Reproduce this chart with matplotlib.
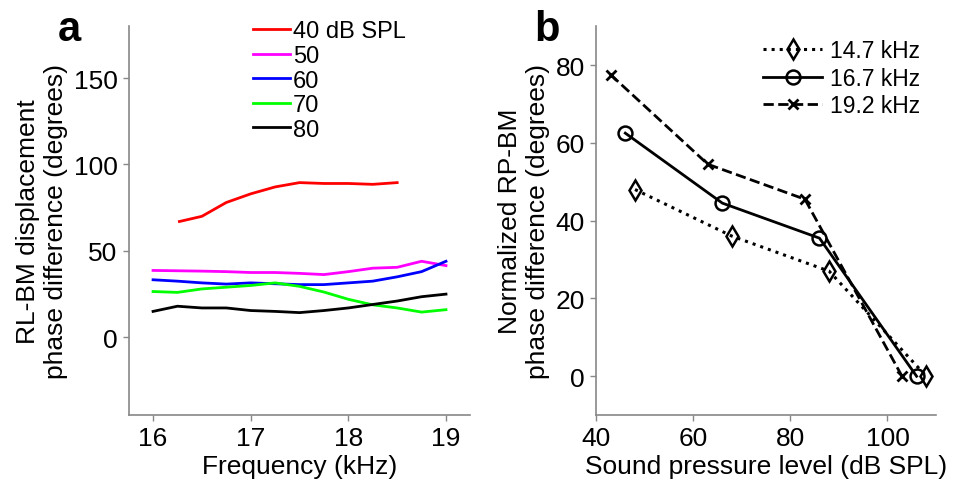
import matplotlib.pyplot as plt

plt.rcParams['font.family'] = ['Liberation Sans', 'DejaVu Sans']

# panel a: RL-BM phase difference vs frequency
freq_a = [16.0, 16.25, 16.5, 16.75, 17.0, 17.25, 17.5, 17.75, 18.0, 18.25, 18.5, 18.75, 19.0]
freq_40 = [16.27, 16.5, 16.75, 17.0, 17.25, 17.5, 17.75, 18.0, 18.25, 18.5]
phase_40 = [67, 70, 78, 83, 87, 89.5, 89, 89, 88.5, 89.5]
phase_50 = [38.7, 38.5, 38.3, 38, 37.5, 37.5, 37, 36.3, 38, 40, 40.5, 44, 41.5]
phase_60 = [33.3, 32.5, 31.5, 30.8, 31.5, 31, 30.5, 30.5, 31.5, 32.5, 35, 38, 44]
phase_70 = [26.5, 26, 28, 29, 30, 31.5, 29.5, 26.2, 22, 18.8, 17, 14.6, 16]
phase_80 = [15, 18, 17, 17, 15.5, 15, 14.3, 15.5, 17, 19, 21, 23.5, 25]
labels_a = ['40 dB SPL', '50', '60', '70', '80']
colors_a = ['#ff0000', '#ff00ff', '#0000ff', '#00ff00', '#000000']

# panel b: normalized RP-BM phase difference vs SPL
spl_147 = [48, 68, 88, 108]
ph_147 = [48, 36, 27, 0]
spl_167 = [46, 66, 86, 106]
ph_167 = [62.5, 44.5, 35.5, 0]
spl_192 = [43, 63, 83, 103]
ph_192 = [77.5, 54.5, 45.5, 0]
labels_b = ['14.7 kHz', '16.7 kHz', '19.2 kHz']

fig = plt.figure(figsize=(9.6, 4.85), dpi=100)
ax1 = fig.add_axes([0.134, 0.142, 0.356, 0.802])
ax2 = fig.add_axes([0.621, 0.142, 0.354, 0.802])

series_a = [(freq_40, phase_40), (freq_a, phase_50), (freq_a, phase_60),
            (freq_a, phase_70), (freq_a, phase_80)]
for (x, y), lab, c in zip(series_a, labels_a, colors_a):
    ax1.plot(x, y, color=c, lw=2, label=lab)

ax1.set_xlim(15.75, 19.25)
ax1.set_ylim(-45, 180)
ax1.set_xticks([16, 17, 18, 19])
ax1.set_yticks([0, 50, 100, 150])
ax1.set_xlabel('Frequency (kHz)', fontsize=19, labelpad=3)
ax1.set_ylabel('RL-BM displacement\nphase difference (degrees)', fontsize=19, labelpad=4)
ax1.legend(loc='upper left', bbox_to_anchor=(0.364, 1.015), frameon=False, fontsize=17,
           handlelength=1.57, handletextpad=0.13, labelspacing=0.11,
           borderaxespad=0, borderpad=0)
ax1.text(-0.173, 0.992, 'a', transform=ax1.transAxes, fontsize=30, fontweight='bold',
         ha='center', va='center')

ax2.plot(spl_147, ph_147, color='black', ls=':', lw=2.2, marker='d', ms=10,
         mfc='none', mew=1.8, label=labels_b[0])
ax2.plot(spl_167, ph_167, color='black', ls='-', lw=2, marker='o', ms=10,
         mfc='none', mew=1.8, label=labels_b[1])
ax2.plot(spl_192, ph_192, color='black', ls='--', lw=2, marker='x', ms=7,
         mew=2, label=labels_b[2])

ax2.set_xlim(40, 110)
ax2.set_ylim(-10, 90)
ax2.set_xticks([40, 60, 80, 100])
ax2.set_yticks([0, 20, 40, 60, 80])
ax2.set_xlabel('Sound pressure level (dB SPL)', fontsize=19, labelpad=3)
ax2.set_ylabel('Normalized RP-BM\nphase difference (degrees)', fontsize=19, labelpad=4)
ax2.legend(loc='upper left', bbox_to_anchor=(0.491, 0.967), frameon=False, fontsize=16.5,
           handlelength=2.58, handletextpad=0.35, labelspacing=0.2,
           borderaxespad=0, borderpad=0)
ax2.text(-0.144, 0.992, 'b', transform=ax2.transAxes, fontsize=30, fontweight='bold',
         ha='center', va='center')

for ax in (ax1, ax2):
    for side in ('top', 'right'):
        ax.spines[side].set_visible(False)
    for side in ('left', 'bottom'):
        ax.spines[side].set_color('#888888')
        ax.spines[side].set_linewidth(1.2)
    ax.tick_params(labelsize=19, color='#888888', length=4, width=1, pad=4)

fig.savefig('out.png', dpi=100)
